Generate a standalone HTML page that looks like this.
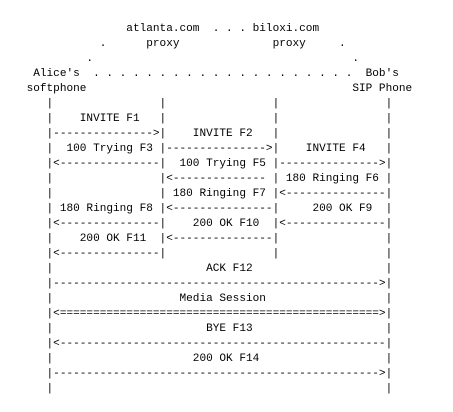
<!DOCTYPE html>
<html><head><meta charset="utf-8"><style>
html,body{margin:0;padding:0;background:#fff;width:453px;height:412px;overflow:hidden}
pre{position:absolute;left:0;top:21.5px;margin:0;font-family:"Liberation Mono",monospace;font-size:11.08px;line-height:15px;color:#000}
</style></head><body>
<pre>                   atlanta.com  . . . biloxi.com
               .      proxy              proxy     .
             .                                       .
     Alice's  . . . . . . . . . . . . . . . . . . . .  Bob's
    softphone                                        SIP Phone
       |                |                |                |
       |    INVITE F1   |                |                |
       |---------------&gt;|    INVITE F2   |                |
       |  100 Trying F3 |---------------&gt;|    INVITE F4   |
       |&lt;---------------|  100 Trying F5 |---------------&gt;|
       |                |&lt;-------------- | 180 Ringing F6 |
       |                | 180 Ringing F7 |&lt;---------------|
       | 180 Ringing F8 |&lt;---------------|     200 OK F9  |
       |&lt;---------------|    200 OK F10  |&lt;---------------|
       |    200 OK F11  |&lt;---------------|                |
       |&lt;---------------|                |                |
       |                       ACK F12                    |
       |-------------------------------------------------&gt;|
       |                   Media Session                  |
       |&lt;================================================&gt;|
       |                       BYE F13                    |
       |&lt;-------------------------------------------------|
       |                     200 OK F14                   |
       |-------------------------------------------------&gt;|
       |                                                  |</pre>
</body></html>
